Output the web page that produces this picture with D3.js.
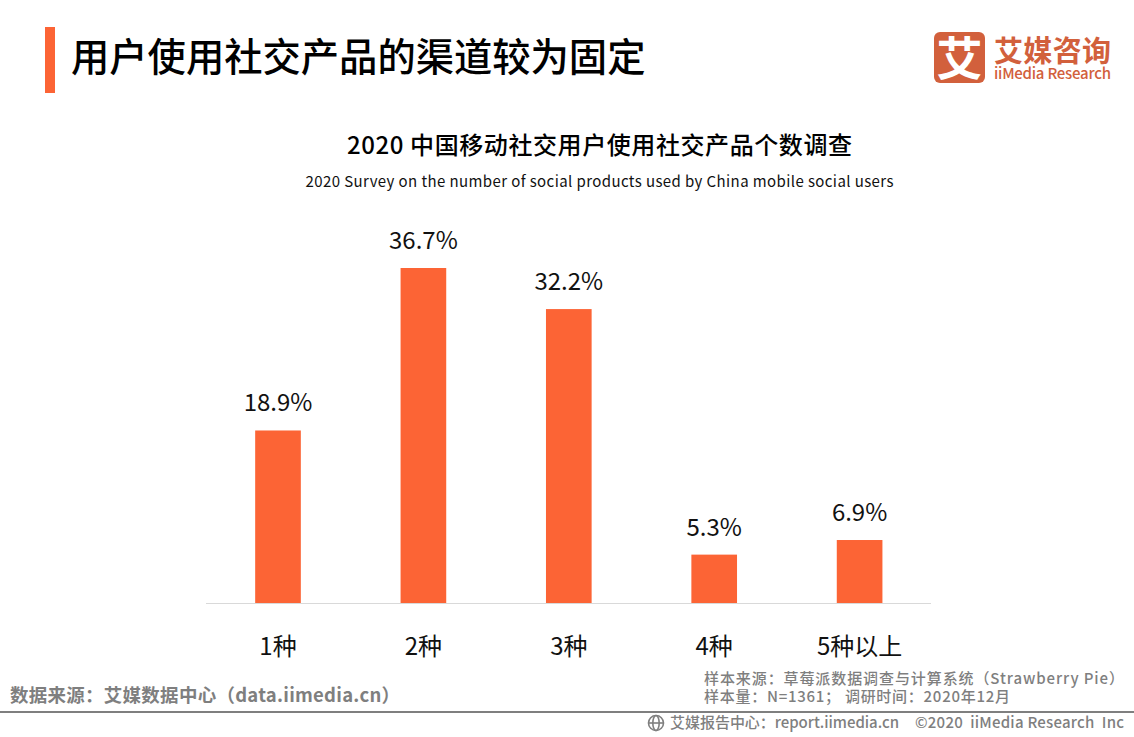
<!DOCTYPE html>
<html><head><meta charset="utf-8">
<style>html,body{margin:0;padding:0;background:#fff;overflow:hidden}
text{font-family:"Noto Sans CJK SC","Noto Sans",sans-serif}</style>
<script src="https://cdn.jsdelivr.net/npm/d3@7"></script></head>
<body><svg id="c" width="1134" height="737"></svg>
<script>
const categories=["1种","2种","3种","4种","5种以上"];
const values=[18.9,36.7,32.2,5.3,6.9];
const valueLabels=["18.9%","36.7%","32.2%","5.3%","6.9%"];
const pageTitle="用户使用社交产品的渠道较为固定";
const chartTitle="2020 中国移动社交用户使用社交产品个数调查";
const chartSubtitle="2020 Survey on the number of social products used by China mobile social users";
const sourceLeft="数据来源：艾媒数据中心（data.iimedia.cn）";
const sampleLines=["样本来源：草莓派数据调查与计算系统（Strawberry Pie）","样本量：N=1361； 调研时间：2020年12月"];
const footerLeft="艾媒报告中心：report.iimedia.cn";
const footerRight="©2020  iiMedia Research  Inc";
const logoLines=["艾媒咨询","iiMedia Research"];
const orange="#FC6435",grey="#7f7f7f",logo="#D2603C";

const svg=d3.select("#c");
const x=d3.scaleBand().domain(categories).range([205.3,932.3]).paddingInner(0.686).paddingOuter(0.343);
const y=d3.scaleLinear().domain([0,36.7]).range([603,268]);

function label(t,px,py,size,o={}){
  return svg.append("text").attr("x",px).attr("y",py).attr("font-size",size)
    .attr("fill",o.fill||"#000").attr("font-weight",o.weight||400)
    .attr("text-anchor",o.anchor||"start").attr("xml:space","preserve").text(t);
}

svg.append("rect").attr("x",45).attr("y",27).attr("width",10).attr("height",66).attr("fill",orange);
label(pageTitle,71,71,38.3,{weight:500});
label(chartTitle,599.5,154,24,{weight:500,anchor:"middle"}).attr("textLength",505);
label(chartSubtitle,599.5,187,15,{anchor:"middle",fill:"#111"}).attr("textLength",588);

svg.append("g").selectAll("rect").data(values).join("rect")
  .attr("x",(d,i)=>x(categories[i])).attr("y",d=>y(d))
  .attr("width",x.bandwidth()).attr("height",d=>y(0)-y(d)).attr("fill",orange);

svg.append("g").selectAll("text").data(values).join("text")
  .attr("x",(d,i)=>x(categories[i])+x.bandwidth()/2).attr("y",d=>y(d)-19)
  .attr("text-anchor","middle").attr("font-size",24).attr("fill","#111")
  .text((d,i)=>valueLabels[i]);

const axis=svg.append("g").attr("transform","translate(0,603)")
  .call(d3.axisBottom(x).tickSize(0).tickPadding(35));
axis.select(".domain").remove();
axis.append("line").attr("x1",206).attr("x2",931).attr("y1",0.5).attr("y2",0.5).attr("stroke","#d9d9d9");
axis.selectAll("text").attr("font-size",24).attr("fill","#111")
  .style("font-family",'"Noto Sans CJK SC",sans-serif');

label(sourceLeft,10,702,18.5,{fill:grey,weight:700}).attr("textLength",390);

const sample=svg.append("text").attr("font-size",15).attr("fill",grey).attr("font-weight",500).attr("xml:space","preserve");
sample.append("tspan").attr("x",704).attr("y",684).attr("textLength",420).text(sampleLines[0]);
sample.append("tspan").attr("x",704).attr("y",702).attr("textLength",306).text(sampleLines[1]);

svg.append("line").attr("x1",0).attr("x2",1134).attr("y1",712).attr("y2",712).attr("stroke",grey).attr("stroke-width",2);
label(footerLeft,670,728,15,{fill:grey,weight:500}).attr("textLength",229);
label(footerRight,915,728,15,{fill:grey,weight:500}).attr("textLength",209);

// footer globe icon
const g=svg.append("g").attr("fill","none").attr("stroke",grey).attr("stroke-width",1.6);
g.append("circle").attr("cx",656).attr("cy",723).attr("r",7.5);
g.append("ellipse").attr("cx",656).attr("cy",723).attr("rx",3.2).attr("ry",7.5);
g.append("line").attr("x1",648.5).attr("x2",663.5).attr("y1",723).attr("y2",723);

// logo
svg.append("rect").attr("x",934).attr("y",32).attr("width",51).attr("height",51).attr("rx",6).attr("fill",logo);
label("艾",959.5,75,46,{fill:"#fff",weight:700,anchor:"middle"});
const lt=svg.append("text").attr("fill",logo);
lt.append("tspan").attr("x",994).attr("y",62).attr("font-size",29).attr("font-weight",700).attr("textLength",117).text(logoLines[0]);
lt.append("tspan").attr("x",994).attr("y",79).attr("font-size",15).attr("font-weight",500).attr("textLength",117).text(logoLines[1]);
</script></body></html>
